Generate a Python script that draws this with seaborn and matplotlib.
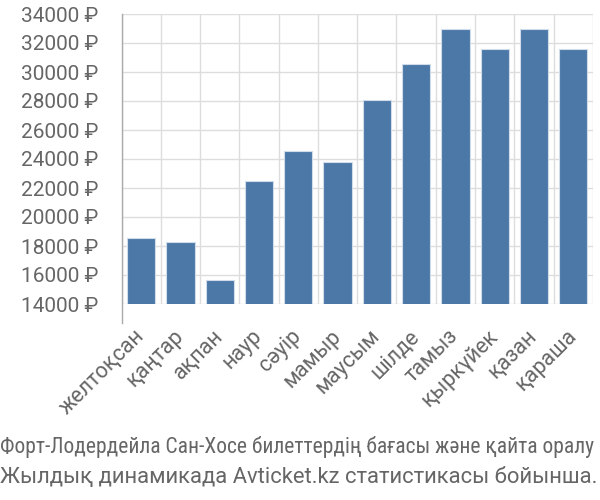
import matplotlib
matplotlib.use("Agg")
import matplotlib.pyplot as plt
import seaborn as sns
import pandas as pd
import numpy as np

months = ["желтоқсан", "қаңтар", "ақпан", "наур", "сәуір", "мамыр",
          "маусым", "шілде", "тамыз", "қыркүйек", "қазан", "қараша"]
prices = [18550, 18260, 15660, 22460, 24530, 23810,
          28070, 30530, 32970, 31610, 32970, 31610]
yticks = [14000, 16000, 18000, 20000, 22000, 24000, 26000, 28000, 30000, 32000, 34000]
caption_lines = ["Форт-Лодердейла Сан-Хосе билеттердің бағасы және қайта оралу",
                 "Жылдық динамикада Avticket.kz статистикасы бойынша."]

sns.set_theme(style="white")
plt.rcParams["font.family"] = ["Roboto", "DejaVu Sans"]

df = pd.DataFrame({"month": months, "price": prices})

fig = plt.figure(figsize=(6, 5), dpi=100)
ax = fig.add_axes([0.2028, 0.392, 0.988 - 0.2028, 0.972 - 0.392])
sns.barplot(data=df, x="month", y="price", color="#4c78a8", saturation=1,
            width=0.72, edgecolor="#d0dcea", linewidth=0.8, ax=ax, zorder=3)

ax.set_ylim(14000, 34000)
ax.set_xlim(-0.5, len(months) - 0.5)
ax.set_yticks(yticks)
ax.set_yticklabels([f"{v} ₽" for v in yticks], fontsize=15, color="#666666")
ax.set_xticks(range(len(months)))
ax.set_xticklabels(months, rotation=45, ha="right", va="center", rotation_mode="anchor",
                   fontsize=15.5, color="#666666")
ax.set_xticks(np.arange(-0.5, len(months), 1), minor=True)
ax.tick_params(axis="x", which="major", length=0, pad=21)
ax.tick_params(axis="x", which="minor", length=14, width=1, color="#dddddd", direction="out")
ax.tick_params(axis="y", which="major", length=16, width=1, color="#dddddd", pad=1)
ax.grid(False)
ax.grid(axis="y", which="major", color="#dddddd", linewidth=1, zorder=0)
ax.grid(axis="x", which="minor", color="#dddddd", linewidth=1, zorder=0)
ax.set_xlabel("")
ax.set_ylabel("")
for s in ["top", "right", "bottom"]:
    ax.spines[s].set_visible(False)
ax.spines["left"].set_color("#aaaaaa")
ax.spines["left"].set_linewidth(1)
ax.spines["left"].set_bounds(14000 - 20000 * 19 / 290, 34000)
ax.spines["left"].set_clip_on(False)

fig.text(0.0, 1 - 453 / 500, caption_lines[0], fontsize=15.5, color="#666666",
         family=["Roboto Condensed", "DejaVu Sans"], ha="left", va="baseline")
fig.text(0.0, 1 - 483 / 500, caption_lines[1], fontsize=15.8, color="#666666",
         family=["Roboto", "DejaVu Sans"], ha="left", va="baseline")

fig.savefig("out.png", dpi=100)
